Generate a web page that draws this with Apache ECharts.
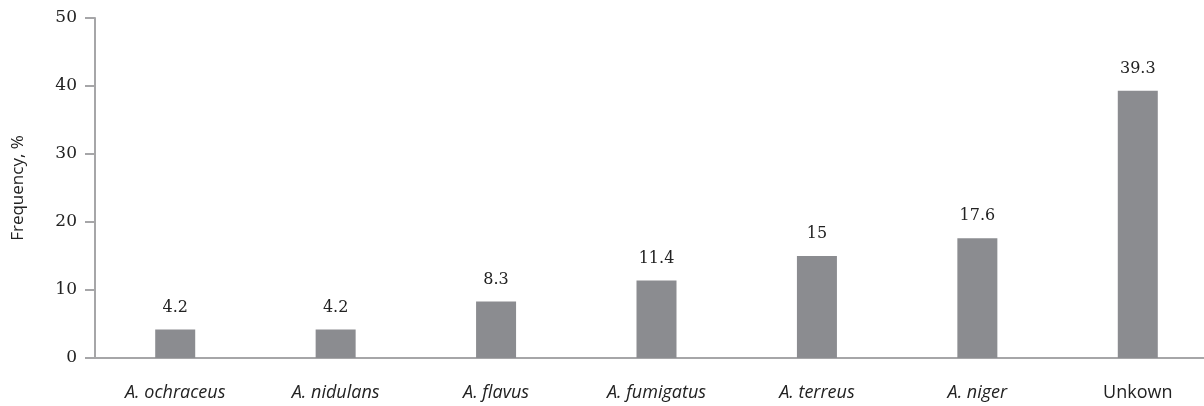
<!DOCTYPE html>
<html>
<head>
<meta charset="utf-8">
<script src="https://cdn.jsdelivr.net/npm/echarts@6/dist/echarts.min.js"></script>
<style>
  html, body { margin: 0; padding: 0; background: #fff; overflow: hidden; }
  /* plot runs past the right edge of the window in the figure */
  #chart { width: 1220px; height: 406px; }
</style>
</head>
<body>
<div id="chart"></div>
<script>
var categories = ['A. ochraceus', 'A. nidulans', 'A. flavus', 'A. fumigatus', 'A. terreus', 'A. niger', 'Unkown']
var frequency = [4.2, 4.2, 8.3, 11.4, 15, 17.6, 39.3]
var yTicks = [0, 10, 20, 30, 40, 50]

var chart = echarts.init(document.getElementById('chart'))
chart.setOption({
  animation: false,
  grid: {
    left: 95,
    right: 2,
    top: 18,
    bottom: 48
  },
  xAxis: {
    type: 'category',
    data: categories,
    axisLine: { lineStyle: { color: '#a6a6a8', width: 2 } },
    axisTick: { show: false },
    axisLabel: {
      margin: 26,
      fontSize: 18,
      fontStyle: 'italic',
      fontFamily: 'Open Sans',
      color: '#222',
      // Unkown is not italic in the figure
      formatter: function (v) {
        return v === 'Unkown' ? '{n|' + v + '}' : v
      },
      rich: {
        n: { fontStyle: 'normal', fontSize: 18, fontFamily: 'Open Sans', color: '#222' }
      }
    }
  },
  yAxis: {
    type: 'value',
    min: yTicks[0],
    max: yTicks[yTicks.length - 1],
    interval: 10,
    name: 'Frequency, %',
    nameLocation: 'middle',
    nameGap: 68,
    nameTextStyle: { fontSize: 17, fontFamily: 'Open Sans', color: '#222' },
    axisLine: { show: true, lineStyle: { color: '#a6a6a8', width: 2 } },
    axisTick: { show: true, length: 10, lineStyle: { color: '#a6a6a8', width: 2 } },
    splitLine: { show: false },
    axisLabel: {
      margin: 18,
      fontSize: 17,
      fontFamily: 'DejaVu Serif',
      color: '#222'
    }
  },
  series: [{
    type: 'bar',
    data: frequency,
    barWidth: 40,
    itemStyle: { color: '#8b8c90' },
    label: {
      show: true,
      position: 'top',
      distance: 14,
      fontSize: 16,
      fontFamily: 'DejaVu Serif',
      color: '#222'
    }
  }]
})
</script>
</body>
</html>
